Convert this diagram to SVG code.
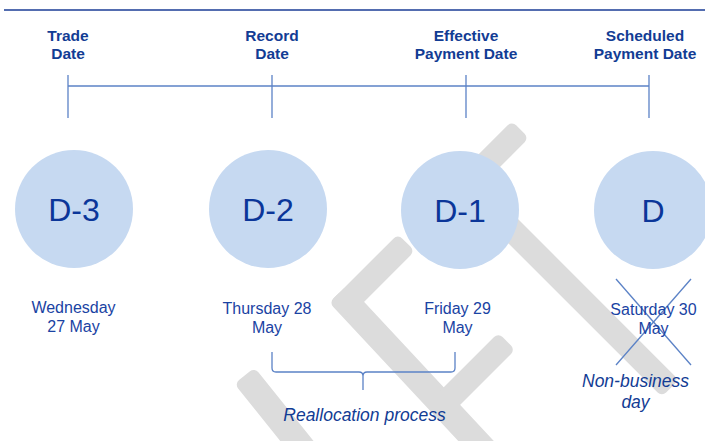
<svg xmlns="http://www.w3.org/2000/svg" width="705" height="441" viewBox="0 0 705 441">
<style>
.wm{fill:#dcdcdc}
.hdr{font-family:"Liberation Sans",Arial,sans-serif;font-weight:bold;font-size:15.5px;fill:#123c94;text-anchor:middle}
.circ{fill:#c6d9f1}
.dl{font-family:"Liberation Sans",Arial,sans-serif;font-size:32px;fill:#0b3699;text-anchor:middle}
.date{font-family:"Liberation Sans",Arial,sans-serif;font-size:16px;fill:#1a43a3;text-anchor:middle}
.it{font-family:"Liberation Sans",Arial,sans-serif;font-style:italic;font-size:17.5px;fill:#123c94;text-anchor:middle}
.tl{stroke:#5b82c6;stroke-width:1.3;fill:none}
</style>
<rect width="705" height="441" fill="#ffffff"/>
<g id="watermark">
<rect class="wm" x="0" y="-13" width="260" height="26" rx="6" transform="translate(338.5,293.5) rotate(47)"/>
<rect class="wm" x="0" y="-12" width="96" height="24" rx="6" transform="translate(338.5,310.5) rotate(-45)"/>
<rect class="wm" x="0" y="-12" width="86" height="24" rx="6" transform="translate(446,402) rotate(-45)"/>
<rect class="wm" x="0" y="-12" width="154" height="24" rx="6" transform="translate(411.5,238.5) rotate(-45)"/>
<rect class="wm" x="0" y="-12" width="289" height="24" rx="6" transform="translate(466,184) rotate(45)"/>
<rect class="wm" x="0" y="-13" width="150" height="26" rx="6" transform="translate(244.5,375.6) rotate(51.3)"/>
</g>
<line x1="4" y1="10" x2="705" y2="10" stroke="#1a3c96" stroke-width="1.5"/>
<g id="headers">
<text class="hdr" x="68" y="41">Trade</text><text class="hdr" x="68" y="59">Date</text>
<text class="hdr" x="272" y="41">Record</text><text class="hdr" x="272" y="59">Date</text>
<text class="hdr" x="466" y="41">Effective</text><text class="hdr" x="466" y="59">Payment Date</text>
<text class="hdr" x="645" y="41">Scheduled</text><text class="hdr" x="645" y="59">Payment Date</text>
</g>
<g id="connectors">
<line class="tl" x1="68" y1="86" x2="649" y2="86"/>
<line class="tl" x1="68" y1="75" x2="68" y2="118"/>
<line class="tl" x1="272" y1="75" x2="272" y2="118"/>
<line class="tl" x1="466" y1="75" x2="466" y2="118"/>
<line class="tl" x1="649" y1="75" x2="649" y2="118"/>
<path class="tl" d="M272,352 V368 Q272,372 276,372 H359 Q363,372 363,376 V390 M363,376 Q363,372 367,372 H451 Q455,372 455,368 V352"/>
<line class="tl" x1="616" y1="279" x2="691" y2="365"/>
<line class="tl" x1="691" y1="279" x2="616" y2="365"/>
</g>
<g id="n-d3"><circle class="circ" cx="74" cy="209" r="59"/><text class="dl" x="74" y="221">D-3</text></g>
<g id="n-d2"><circle class="circ" cx="268" cy="209" r="59"/><text class="dl" x="268" y="221">D-2</text></g>
<g id="n-d1"><circle class="circ" cx="460" cy="210" r="59"/><text class="dl" x="460" y="222">D-1</text></g>
<g id="n-d"><circle class="circ" cx="653" cy="210" r="59"/><text class="dl" x="653" y="222">D</text></g>
<g id="dates">
<text class="date" x="73.5" y="313">Wednesday</text><text class="date" x="73.5" y="332">27 May</text>
<text class="date" x="267" y="314">Thursday 28</text><text class="date" x="267" y="333">May</text>
<text class="date" x="457.5" y="314">Friday 29</text><text class="date" x="457.5" y="333">May</text>
<text class="date" x="653.5" y="315">Saturday 30</text><text class="date" x="653.5" y="334">May</text>
</g>
<text class="it" x="364.5" y="421">Reallocation process</text>
<text class="it" x="635.5" y="387">Non-business</text>
<text class="it" x="635.5" y="408">day</text>
</svg>
